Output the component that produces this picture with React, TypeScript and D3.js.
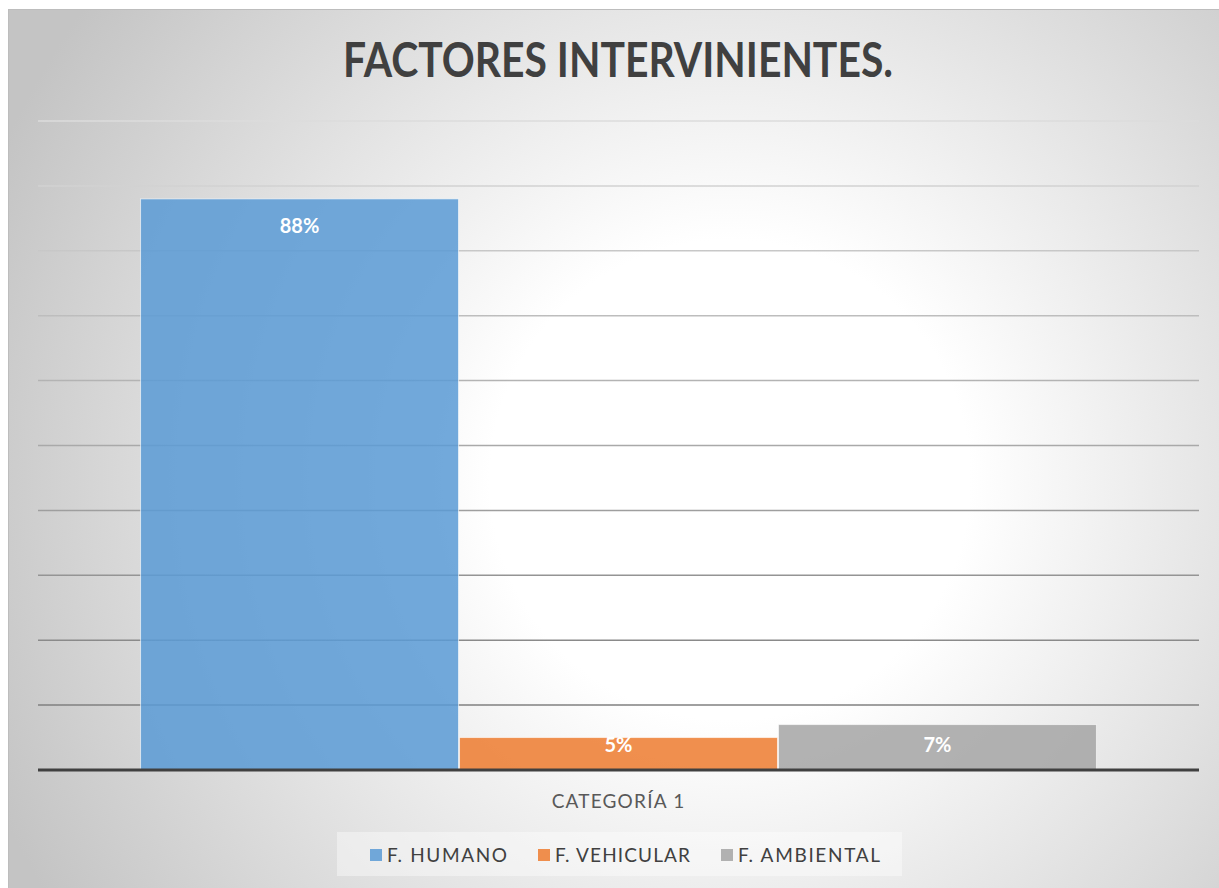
import React from "react";
import * as d3 from "d3";

const categories = ["CATEGORÍA 1"];
const seriesNames = ["F. HUMANO", "F. VEHICULAR", "F. AMBIENTAL"];
const seriesValues = [0.88, 0.05, 0.07];
const seriesColors = ["#5B9BD5", "#ED7D31", "#A5A5A5"];
const yTicks = d3.range(0, 1.0001, 0.1);

const W = 1219;
const H = 888;
const plot = { left: 38, right: 1199, top: 121, bottom: 770 };

// rough widths of the legend labels, used to place them in a row
const legendTextW = [120, 135, 142];

function App() {
  const x0 = d3
    .scaleBand<string>()
    .domain(categories)
    .range([plot.left, plot.right])
    .padding(0);
  const x1 = d3
    .scaleBand<string>()
    .domain(seriesNames)
    .range([0, x0.bandwidth()])
    .paddingInner(0)
    .paddingOuter(0.32);
  const y = d3.scaleLinear().domain([0, 1]).range([plot.bottom, plot.top]);

  const fmt = d3.format(".0%");
  const font = "Lato, 'Open Sans', 'DejaVu Sans', sans-serif";

  // legend row
  const legendY = 855;
  const items: { x: number }[] = [];
  let cx = 370;
  seriesNames.forEach((_, i) => {
    items.push({ x: cx });
    cx += 12 + 5 + legendTextW[i] + 31;
  });

  return (
    <div style={{ position: "fixed", left: 0, top: 0 }}>
      <svg width={W} height={H} style={{ display: "block" }}>
        <defs>
          <radialGradient
            id="bg"
            gradientUnits="userSpaceOnUse"
            cx={730}
            cy={480}
            r={800}
          >
            <stop offset="0" stopColor="#ffffff" />
            <stop offset="0.3" stopColor="#ffffff" />
            <stop offset="1" stopColor="#c4c4c4" />
          </radialGradient>
          <linearGradient
            id="grid"
            gradientUnits="userSpaceOnUse"
            x1={0}
            y1={plot.top}
            x2={0}
            y2={plot.bottom - 65}
          >
            <stop offset="0" stopColor="#dcdcdc" />
            <stop offset="1" stopColor="#808080" />
          </linearGradient>
        </defs>
        <rect x={0} y={0} width={W} height={H} fill="#ffffff" />
        <rect
          x={8.5}
          y={9.5}
          width={W}
          height={H}
          fill="url(#bg)"
          stroke="#bdbdbd"
          strokeWidth={1}
        />

        <text
          x={618}
          y={77}
          textAnchor="middle"
          fontFamily={font}
          fontWeight="bold"
          fontSize={47}
          fill="#404040"
          textLength={550}
          lengthAdjust="spacingAndGlyphs"
        >
          FACTORES INTERVINIENTES.
        </text>

        {yTicks.slice(1).map((t) => (
          <line
            key={t}
            x1={plot.left}
            x2={plot.right}
            y1={y(t)}
            y2={y(t)}
            stroke="url(#grid)"
            strokeWidth={1.5}
          />
        ))}

        {categories.map((c) => (
          <g key={c} transform={`translate(${x0(c)},0)`}>
            {seriesNames.map((s, i) => {
              const v = seriesValues[i];
              const bx = x1(s) as number;
              const bw = x1.bandwidth();
              const top = y(v);
              const labelY = Math.min(top + 34, y(0) - 18);
              return (
                <g key={s}>
                  <rect
                    x={bx + 0.5}
                    y={top}
                    width={bw - 1}
                    height={y(0) - top}
                    fill={seriesColors[i]}
                    fillOpacity={0.86}
                    stroke="#ffffff"
                    strokeOpacity={0.6}
                    strokeWidth={1}
                  />
                  <text
                    x={bx + bw / 2}
                    y={labelY}
                    textAnchor="middle"
                    fontFamily={font}
                    fontWeight="bold"
                    fontSize={20}
                    fill="#ffffff"
                  >
                    {fmt(v)}
                  </text>
                </g>
              );
            })}
            <text
              x={x0.bandwidth() / 2}
              y={808}
              textAnchor="middle"
              fontFamily={font}
              fontSize={19}
              letterSpacing={1.2}
              fill="#595959"
            >
              {c}
            </text>
          </g>
        ))}

        <line
          x1={plot.left}
          x2={plot.right}
          y1={y(0)}
          y2={y(0)}
          stroke="#404040"
          strokeWidth={3}
        />

        <rect
          x={337}
          y={832}
          width={565}
          height={44}
          fill="#ffffff"
          fillOpacity={0.4}
        />
        {seriesNames.map((s, i) => (
          <g key={s} transform={`translate(${items[i].x},${legendY})`}>
            <rect
              x={0}
              y={-6}
              width={12}
              height={12}
              fill={seriesColors[i]}
              fillOpacity={0.86}
            />
            <text
              x={17}
              y={7}
              fontFamily={font}
              fontSize={19}
              fill="#404040"
              textLength={legendTextW[i]}
              lengthAdjust="spacing"
            >
              {s}
            </text>
          </g>
        ))}
      </svg>
    </div>
  );
}

export default App;
